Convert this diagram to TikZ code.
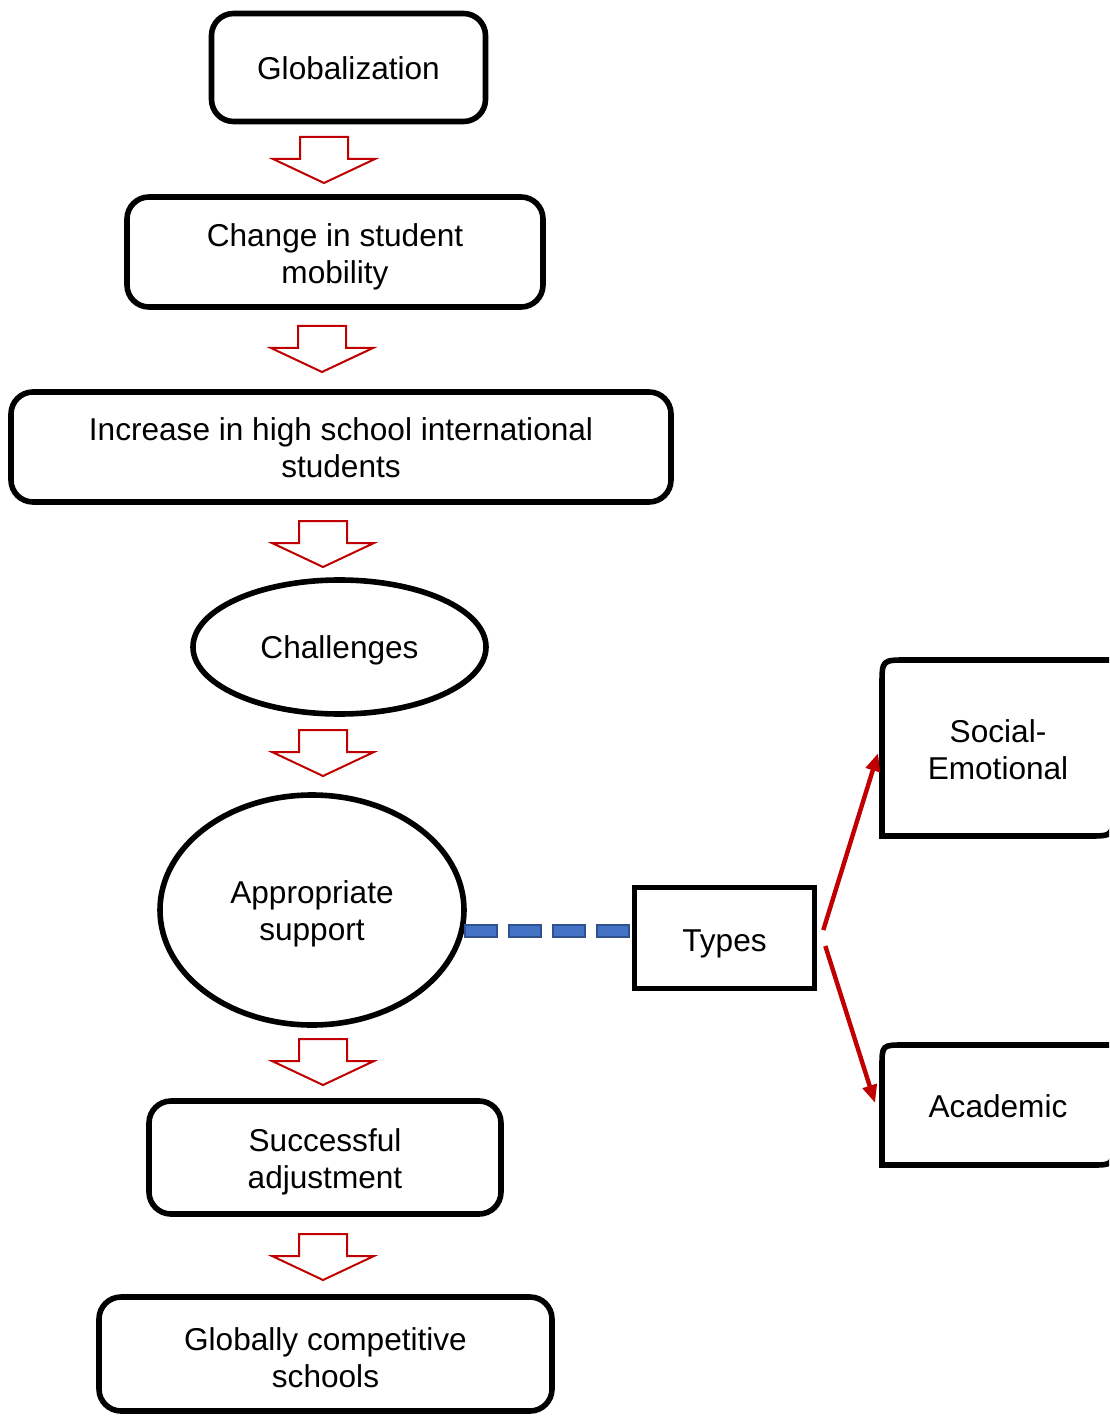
\documentclass[tikz,border=0pt]{standalone}
\usepackage{fontspec}
\setmainfont{Liberation Sans}
\usetikzlibrary{shapes.geometric,arrows.meta,calc}
\definecolor{darkred}{HTML}{C00000}
\definecolor{dashblue}{HTML}{4472C4}
\definecolor{dashborder}{HTML}{2F528F}
\begin{document}
\begin{tikzpicture}[x=0.5pt,y=-0.5pt,
  font=\fontsize{15.8pt}{18.5pt}\selectfont,
  tl/.style={align=center,inner sep=0pt},
  box/.style={draw=black,line width=2.8pt,rounded corners=11pt,inner sep=0pt},
  oval/.style={draw=black,line width=2.8pt,ellipse,inner sep=0pt},
  plainbox/.style={draw=black,line width=2.8pt,inner sep=0pt},
  ghost/.style={inner sep=0pt},
  edgeline/.style={draw=black,line width=2.8pt},
  redarr/.style={draw=darkred,line width=2.2pt,-{Triangle[length=9pt,width=7pt]}},
  downarr/.pic={\draw[darkred,line width=1pt,fill=white] (-24,0) -- (24,0) -- (24,22) -- (51,22) -- (0,46) -- (-51,22) -- (-24,22) -- cycle;}
]
\useasboundingbox (0,0) rectangle (1109,1416);
\clip (0,0) rectangle (1109,1416);

\node[box,minimum width=137pt,minimum height=54pt,label={[tl,yshift=-0.5pt]center:Globalization}] (g) at (348.5,67.5) {};
\node[box,minimum width=208pt,minimum height=55pt,label={[tl,yshift=-2.25pt]center:{Change in student\\mobility}}] (c) at (335,252) {};
\node[box,minimum width=330pt,minimum height=55pt,label={[tl,yshift=-0.6pt]center:{Increase in high school international\\students}}] (i) at (341,447) {};
\node[oval,minimum width=146.5pt,minimum height=67pt,label={[tl,yshift=-1.5pt]center:Challenges}] (ch) at (339.5,647) {};
\node[oval,minimum width=152pt,minimum height=115pt,label={[tl,yshift=-2pt]center:{Appropriate\\support}}] (as) at (312,910) {};
\node[box,minimum width=176pt,minimum height=56.5pt,label={[tl,yshift=-2pt]center:{Successful\\adjustment}}] (sa) at (325,1157.5) {};
\node[box,minimum width=226.5pt,minimum height=57pt,label={[tl,yshift=-2pt]center:{Globally competitive\\schools}}] (gc) at (325.5,1354) {};
\node[plainbox,minimum width=90pt,minimum height=50.5pt,label={[tl,yshift=-2.8pt]center:Types}] (t) at (724.5,938) {};

\node[ghost,minimum width=115.5pt,minimum height=88pt,label={[tl,yshift=-1pt]center:{Social-\\Emotional}}] (se) at (998,748) {};
\node[ghost,minimum width=115.5pt,minimum height=60pt,label={[tl,yshift=-0.5pt]center:Academic}] (ac) at (998,1105) {};

% box outlines of the right-hand nodes (rounded top-left and bottom-right)
\draw[edgeline] (1140,660) -- (907,660) .. controls (882,660) .. (882,685) -- (882,836) -- (1088,836) .. controls (1113,836) .. (1113,811) -- (1113,640);
\draw[edgeline] (1140,1045) -- (904,1045) .. controls (882,1045) .. (882,1067) -- (882,1165) -- (1091,1165) .. controls (1113,1165) .. (1113,1143) -- (1113,1030);

% block arrows
\pic at (324,137) {downarr};
\pic at (322,326) {downarr};
\pic at (323,521) {downarr};
\pic at (323,730) {downarr};
\pic at (323,1039) {downarr};
\pic at (323,1234) {downarr};

% dashed connector
\coordinate (ds) at (as.-8.6);
\coordinate (de) at (ds -| t.west);
\draw[line width=7pt,draw=dashborder,dash pattern=on 17pt off 5pt] (ds) -- (de);
\draw[line width=5pt,draw=dashblue,dash pattern=on 15pt off 7pt,dash phase=21pt] (ds) -- (de);

% red arrows
\draw[redarr] ($(t.east)+(6,-8)$) -- ($(se.west)+(-4,5)$);
\draw[redarr] ($(t.east)+(8,8)$) -- ($(ac.west)+(-7,-2)$);
\end{tikzpicture}
\end{document}
